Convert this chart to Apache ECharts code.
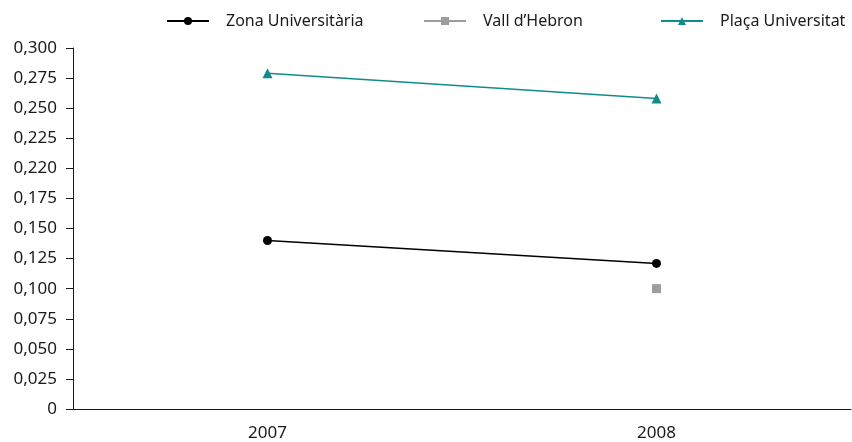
<!DOCTYPE html>
<html><head><meta charset="utf-8">
<script src="https://cdn.jsdelivr.net/npm/echarts@6/dist/echarts.min.js"></script>
<style>html,body{margin:0;padding:0;background:#fff}#c{width:852px;height:442px}</style>
</head><body><div id="c"></div>
<script>
const categories = ['2007', '2008'];
const zonaUniversitaria = [0.140, 0.121];
const vallHebron = [null, 0.100];
const placaUniversitat = [0.279, 0.258];
const yTickLabels = ['0', '0,025', '0,050', '0,075', '0,100', '0,125', '0,150', '0,175', '0,220', '0,225', '0,250', '0,275', '0,300'];
const seriesNames = ['Zona Universitària', 'Vall d\u2019Hebron', 'Plaça Universitat'];

const font = '"Noto Sans", "Open Sans", sans-serif';
const legendLefts = [166, 423, 660];
const chart = echarts.init(document.getElementById('c'));
chart.setOption({
  animation: false,
  textStyle: { fontFamily: font },
  legend: seriesNames.map((n, i) => ({
    top: 13, left: legendLefts[i], padding: 0,
    itemWidth: 42, itemHeight: 10,
    textStyle: { fontSize: 16, color: '#1a1a1a', fontFamily: font, padding: [0, 0, 0, 12] },
    data: [n]
  })),
  grid: { left: 73, right: 1, top: 48, bottom: 32 },
  xAxis: {
    type: 'category', data: categories, boundaryGap: true,
    axisLine: { lineStyle: { color: '#1a1a1a', width: 1 } },
    axisTick: { show: false },
    axisLabel: { color: '#1a1a1a', fontSize: 17, margin: 16, fontFamily: font }
  },
  yAxis: {
    type: 'value', min: 0, max: 0.3, interval: 0.025,
    axisLine: { show: true, lineStyle: { color: '#1a1a1a', width: 1 } },
    axisTick: { show: true, length: 7, lineStyle: { color: '#1a1a1a' } },
    splitLine: { show: false },
    axisLabel: {
      color: '#1a1a1a', fontSize: 17, margin: 16, fontFamily: font,
      formatter: v => yTickLabels[Math.round(v / 0.025)]
    }
  },
  series: [
    { name: seriesNames[0], type: 'line', data: zonaUniversitaria, symbol: 'circle', symbolSize: 9,
      itemStyle: { color: '#000' }, lineStyle: { color: '#000', width: 1.5 } },
    { name: seriesNames[1], type: 'line', data: vallHebron, symbol: 'rect', symbolSize: 9,
      itemStyle: { color: '#9d9d9d' }, lineStyle: { color: '#9d9d9d', width: 1.5 } },
    { name: seriesNames[2], type: 'line', data: placaUniversitat, symbol: 'triangle', symbolSize: 10,
      itemStyle: { color: '#128b8b' }, lineStyle: { color: '#128b8b', width: 1.5 } }
  ]
});
</script></body></html>
